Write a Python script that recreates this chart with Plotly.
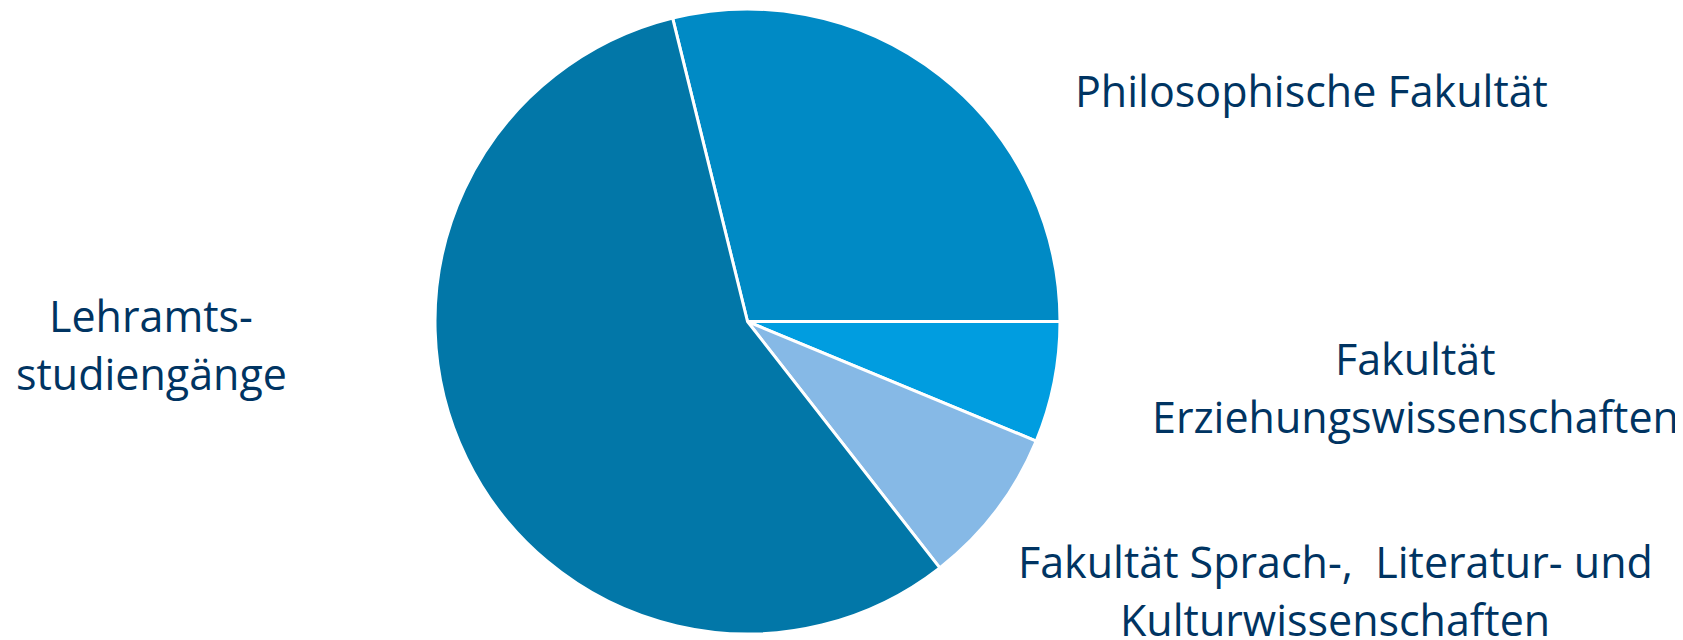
import plotly.graph_objects as go

labels = ["Philosophische Fakultät", "Fakultät Erziehungswissenschaften",
          "Fakultät Sprach-, Literatur- und Kulturwissenschaften", "Lehramtsstudiengänge"]
values = [28.85, 6.25, 8.2, 56.7]
colors = ["#008AC5", "#009DE0", "#86B9E6", "#0277A8"]
label_lines = [["Philosophische Fakultät"],
               ["Fakultät", "Erziehungswissenschaften"],
               ["Fakultät Sprach-,\u00a0 Literatur- und", "Kulturwissenschaften"],
               ["Lehramts-", "studiengänge"]]

W, H = 1683, 640
fig = go.Figure(go.Pie(
    labels=labels, values=values, sort=False, direction="clockwise",
    rotation=-13.86,
    marker=dict(colors=colors, line=dict(color="white", width=3)),
    textinfo="none", hoverinfo="label+percent", showlegend=False,
    domain=dict(x=[427/W, 1052/W], y=[1-626/H, 1-1/H]),
))

label_x = [1303, 1407, 1327, 143]
label_y = [[82], [350, 408], [553, 611], [307, 365]]
for lines, x, ys in zip(label_lines, label_x, label_y):
    for t, y in zip(lines, ys):
        fig.add_annotation(text=t, x=x/W, y=1-y/H, xref="paper", yref="paper",
                           showarrow=False, xanchor="center", yanchor="middle", align="center",
                           font=dict(family="Open Sans", size=43, color="#003462"))

fig.update_layout(width=W, height=H, margin=dict(l=0, r=0, t=0, b=0),
                  paper_bgcolor="white", plot_bgcolor="white")
fig.write_html("out.html")
